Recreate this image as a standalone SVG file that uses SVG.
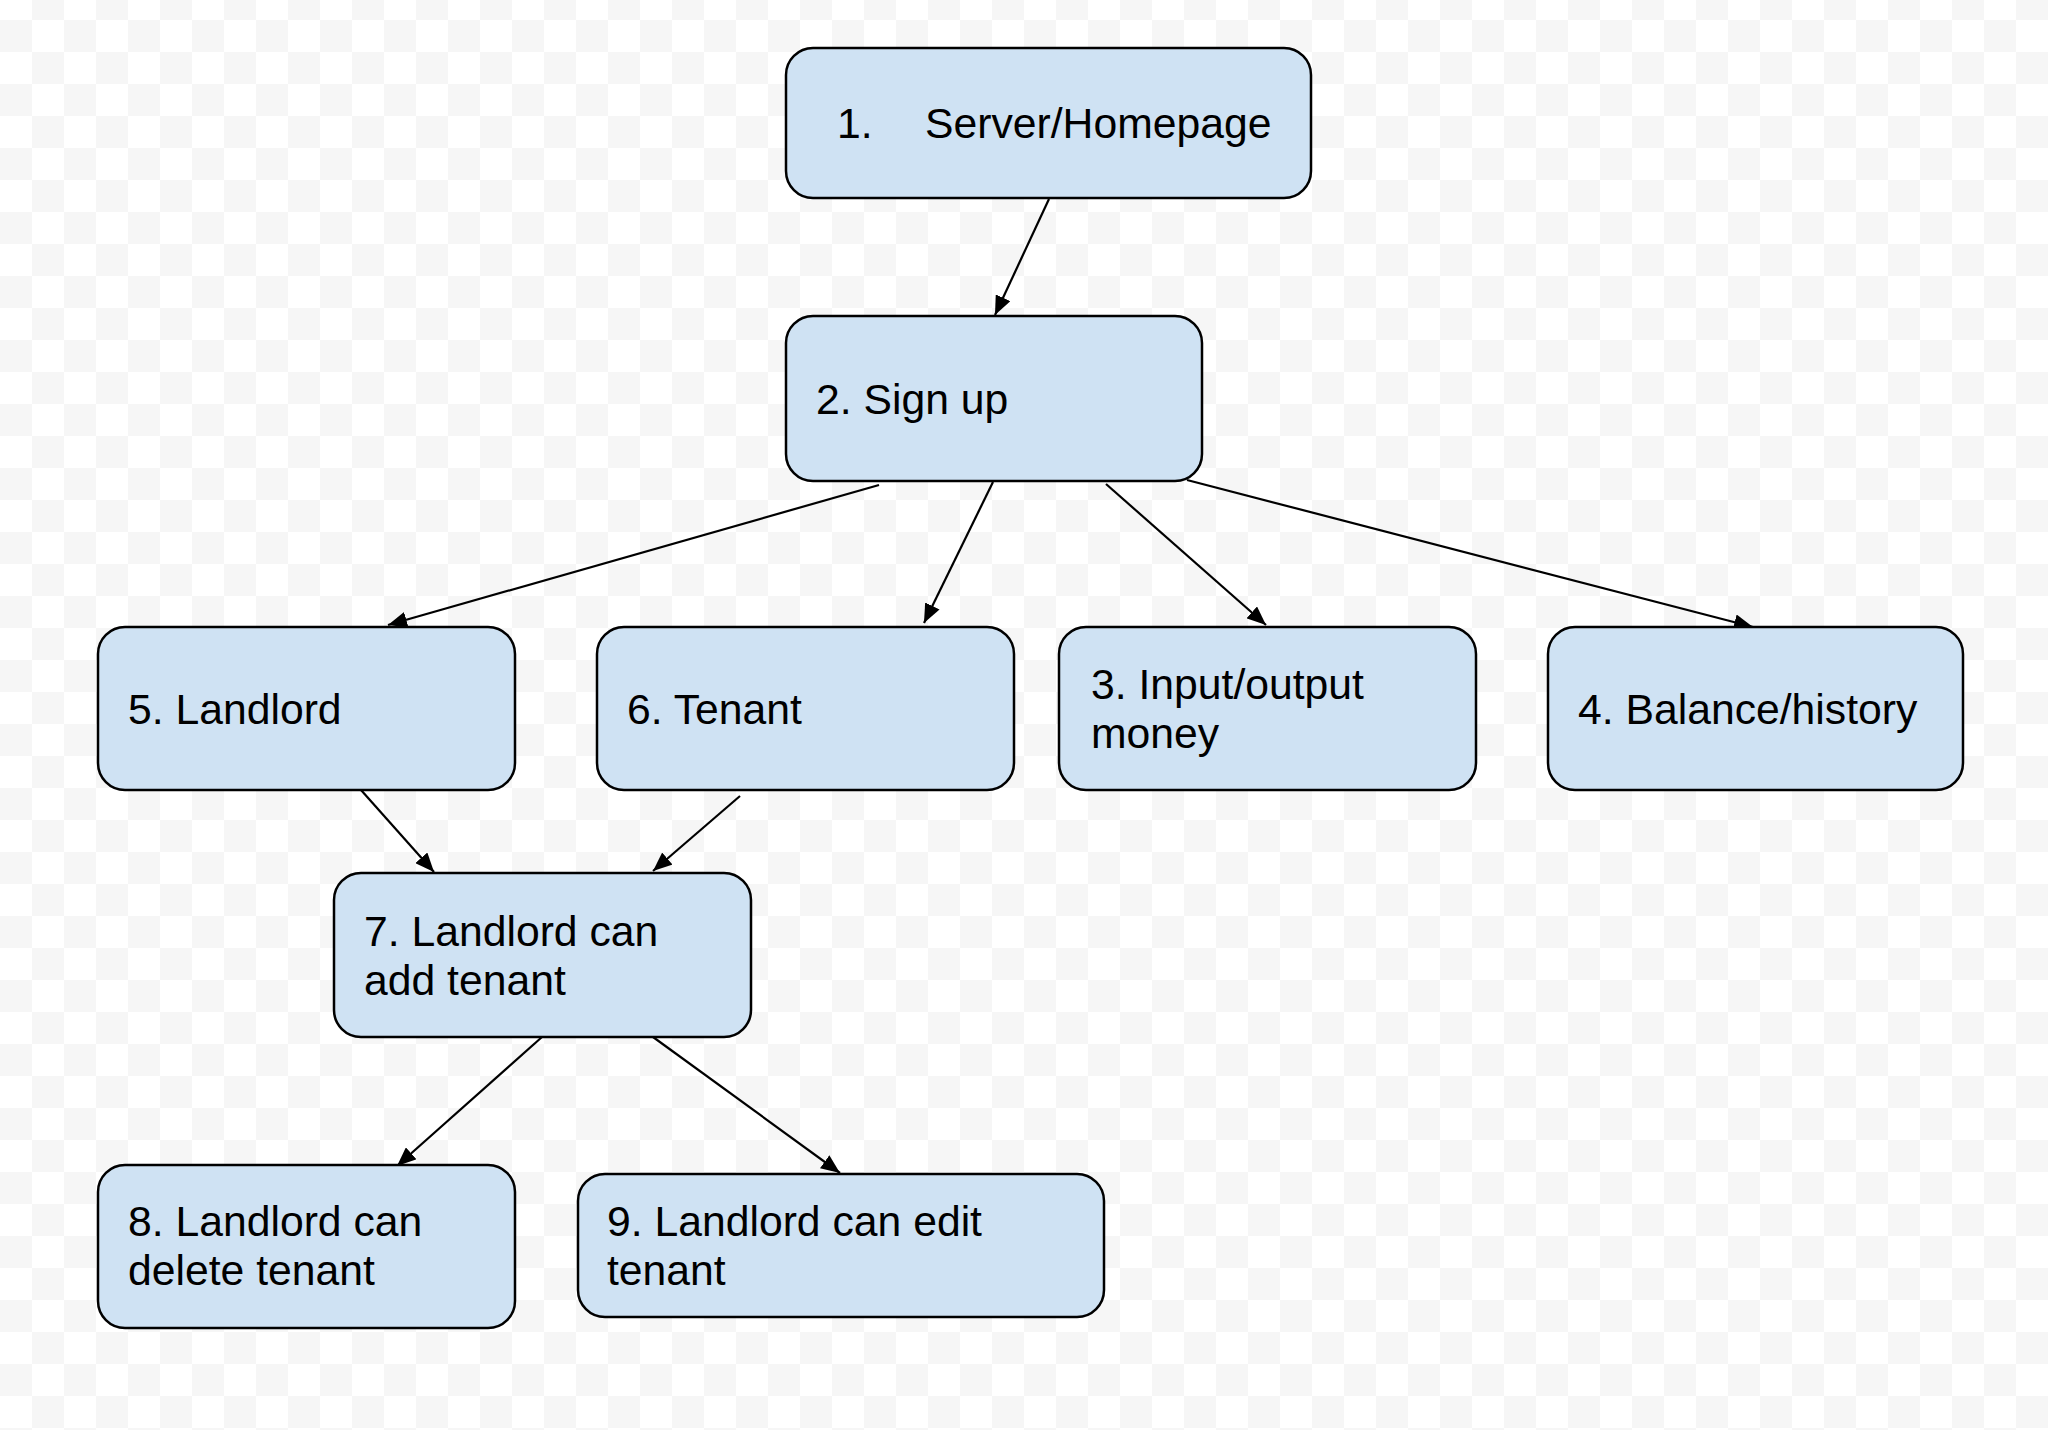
<svg xmlns="http://www.w3.org/2000/svg" width="2048" height="1430" viewBox="0 0 2048 1430">
<style>
.box{fill:#cfe2f3;stroke:#000;stroke-width:2.5}
.lbl{font-family:"Liberation Sans",Arial,sans-serif;font-size:42.7px;fill:#000}
.edge{stroke:#000;stroke-width:2.2;fill:none;marker-end:url(#arr)}
</style>
<defs>
<pattern id="chk" patternUnits="userSpaceOnUse" x="0" y="20" width="64" height="64">
<rect width="64" height="64" fill="#ffffff"/>
<rect x="0" y="0" width="32" height="32" fill="#f6f6f6"/>
<rect x="32" y="32" width="32" height="32" fill="#f6f6f6"/>
</pattern>
<marker id="arr" markerUnits="userSpaceOnUse" markerWidth="20" markerHeight="16" refX="19" refY="8" orient="auto">
<path d="M0,0 L19,8 L0,16 z" fill="#000"/>
</marker>
</defs>
<rect width="2048" height="1430" fill="url(#chk)"/>
<g id="connectors">
<line class="edge" x1="1049" y1="199" x2="995" y2="315"/>
<line class="edge" x1="879" y1="485" x2="388" y2="625"/>
<line class="edge" x1="993" y1="482" x2="924" y2="623"/>
<line class="edge" x1="1106" y1="484" x2="1266" y2="625"/>
<line class="edge" x1="1187" y1="480" x2="1753" y2="627"/>
<line class="edge" x1="361" y1="790" x2="434" y2="872"/>
<line class="edge" x1="740" y1="796" x2="653" y2="871"/>
<line class="edge" x1="542" y1="1037" x2="397" y2="1166"/>
<line class="edge" x1="653" y1="1037" x2="840" y2="1173"/>
</g>
<g id="node1">
<rect class="box" x="786" y="48" width="525" height="150" rx="27"/>
<text class="lbl" x="837" y="138">1.</text>
<text class="lbl" x="925" y="138">Server/Homepage</text>
</g>
<g id="node2">
<rect class="box" x="786" y="316" width="416" height="165" rx="27"/>
<text class="lbl" x="816" y="414">2. Sign up</text>
</g>
<g id="node5">
<rect class="box" x="98" y="627" width="417" height="163" rx="27"/>
<text class="lbl" x="128" y="724">5. Landlord</text>
</g>
<g id="node6">
<rect class="box" x="597" y="627" width="417" height="163" rx="27"/>
<text class="lbl" x="627" y="724">6. Tenant</text>
</g>
<g id="node3">
<rect class="box" x="1059" y="627" width="417" height="163" rx="27"/>
<text class="lbl" x="1091" y="699">3. Input/output</text>
<text class="lbl" x="1091" y="748">money</text>
</g>
<g id="node4">
<rect class="box" x="1548" y="627" width="415" height="163" rx="27"/>
<text class="lbl" x="1578" y="724">4. Balance/history</text>
</g>
<g id="node7">
<rect class="box" x="334" y="873" width="417" height="164" rx="27"/>
<text class="lbl" x="364" y="946">7. Landlord can</text>
<text class="lbl" x="364" y="995">add tenant</text>
</g>
<g id="node8">
<rect class="box" x="98" y="1165" width="417" height="163" rx="27"/>
<text class="lbl" x="128" y="1236">8. Landlord can</text>
<text class="lbl" x="128" y="1285">delete tenant</text>
</g>
<g id="node9">
<rect class="box" x="578" y="1174" width="526" height="143" rx="27"/>
<text class="lbl" x="607" y="1236">9. Landlord can edit</text>
<text class="lbl" x="607" y="1285">tenant</text>
</g>
</svg>
